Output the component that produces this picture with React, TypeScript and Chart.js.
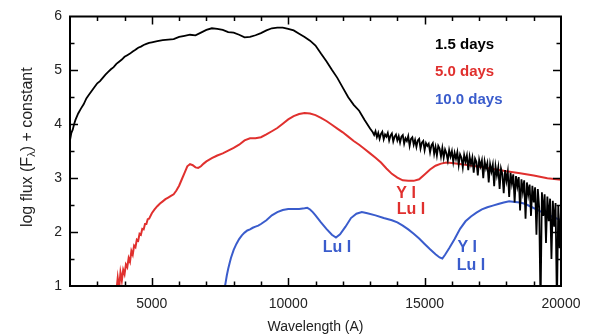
import React, { useEffect, useRef } from "react";
import { Chart, registerables } from "chart.js";

Chart.register(...registerables);

const FONT = "'Liberation Sans', Arial, Helvetica, sans-serif";

// 1.5 days spectrum (black)
const blackWave = [
  2000, 2050, 2100, 2150, 2200, 2300, 2400, 2500, 2600, 2700, 2800, 2900, 3000, 3100, 3200, 3300, 3400, 3500,
  3600, 3700, 3800, 3900, 4000, 4100, 4200, 4300, 4400, 4500, 4600, 4700, 4800, 4900, 5000, 5200, 5400, 5600,
  5800, 6000, 6200, 6400, 6600, 6800, 7000, 7200, 7400, 7600, 7800, 8000, 8200, 8400, 8600, 8800, 9000, 9200,
  9400, 9600, 9800, 10000, 10200, 10400, 10600, 10800, 11000, 11200, 11400, 11600, 11800, 12000, 12200, 12400,
  12600, 12800, 13000, 13100,
  13150, 13200, 13250, 13300, 13350, 13400, 13450, 13500, 13550, 13600,
  13650, 13700, 13750, 13800, 13850, 13900, 13950, 14000, 14050, 14100,
  14150, 14200, 14250, 14300, 14350, 14400, 14450, 14500, 14550, 14600,
  14650, 14700, 14750, 14800, 14850, 14900, 14950, 15000, 15050, 15100,
  15150, 15200, 15250, 15300, 15350, 15400, 15450, 15500, 15550, 15600,
  15650, 15700, 15750, 15800, 15850, 15900, 15950, 16000, 16050, 16100,
  16150, 16200, 16250, 16300, 16350, 16400, 16450, 16500, 16550, 16600,
  16650, 16700, 16750, 16800, 16850, 16900, 16950, 17000, 17050, 17100,
  17150, 17200, 17250, 17300, 17350, 17400, 17450, 17500, 17550, 17600,
  17650, 17700, 17750, 17800, 17850, 17900, 17950, 18000, 18050, 18100,
  18150, 18200, 18250, 18300, 18350, 18400, 18450, 18500, 18550, 18600,
  18650, 18700, 18750, 18800, 18850, 18900, 18950, 19000, 19050, 19100,
  19150, 19200, 19250, 19300, 19350, 19400, 19450, 19500, 19550, 19600,
  19650, 19700, 19750, 19800, 19850, 19900, 19950, 20000,
];
const blackFlux = [
  3.7, 3.84, 3.9, 4.0, 4.08, 4.2, 4.29, 4.37, 4.48, 4.55, 4.62, 4.69, 4.76, 4.8, 4.86, 4.92, 4.97, 5.02,
  5.06, 5.12, 5.16, 5.2, 5.25, 5.28, 5.31, 5.35, 5.38, 5.42, 5.44, 5.47, 5.49, 5.51, 5.52, 5.54, 5.56, 5.57,
  5.58, 5.62, 5.64, 5.66, 5.65, 5.7, 5.75, 5.78, 5.77, 5.75, 5.71, 5.7, 5.66, 5.61, 5.62, 5.65, 5.69, 5.74,
  5.78, 5.79, 5.79, 5.77, 5.74, 5.68, 5.62, 5.55, 5.46, 5.31, 5.17, 5.01, 4.86, 4.68, 4.5, 4.36,
  4.25, 4.08, 3.92, 3.85,
  3.8, 3.87, 3.76, 3.84, 3.73, 3.82, 3.86, 3.72, 3.81, 3.77,
  3.84, 3.7, 3.79, 3.83, 3.68, 3.77, 3.81, 3.7, 3.78, 3.66,
  3.77, 3.8, 3.64, 3.74, 3.69, 3.78, 3.6, 3.73, 3.76, 3.62,
  3.71, 3.58, 3.7, 3.73, 3.55, 3.66, 3.69, 3.52, 3.65, 3.6,
  3.64, 3.48, 3.61, 3.65, 3.45, 3.58, 3.42, 3.6, 3.55, 3.4,
  3.56, 3.38, 3.53, 3.46, 3.33, 3.52, 3.4, 3.5, 3.3, 3.47,
  3.36, 3.48, 3.25, 3.44, 3.38, 3.2, 3.43, 3.31, 3.42, 3.15,
  3.4, 3.26, 3.38, 3.1, 3.36, 3.3, 3.05, 3.34, 3.22, 3.33,
  3.0, 3.31, 3.18, 3.28, 2.92, 3.26, 3.12, 3.25, 2.85, 3.22,
  3.05, 3.2, 2.8, 3.18, 3.08, 2.72, 3.15, 2.95, 3.12, 2.65,
  3.1, 2.9, 3.07, 2.55, 3.04, 2.85, 3.02, 2.4, 2.98, 2.75,
  2.96, 2.25, 2.92, 2.7, 2.88, 2.3, 2.86, 2.55, 2.83, 1.95,
  2.8, 2.45, 0.6, 2.74, 2.3, 2.7, 1.8, 2.66, 2.2, 2.62,
  1.5, 2.58, 2.1, 2.54, 0.6, 2.5, 1.7, 2.42,
];

// 5.0 days spectrum (red)
const redWave = [
  3700, 3750, 3800, 3850, 3900, 3950, 4000, 4050, 4100, 4150, 4200, 4250, 4300, 4350, 4400, 4450, 4500, 4550,
  4600, 4650, 4700, 4750, 4800, 4850, 4900, 5000, 5100, 5200, 5300, 5400, 5500, 5600, 5700, 5800, 5900, 6000,
  6100, 6200, 6300, 6400, 6500, 6600, 6700, 6800, 6900, 7000, 7200, 7400, 7600, 7800, 8000, 8200, 8400, 8600,
  8800, 9000, 9200, 9400, 9600, 9800, 10000, 10200, 10400, 10600, 10800, 11000, 11200, 11400, 11600, 11800,
  12000, 12200, 12400, 12600, 12800, 13000, 13200, 13400, 13600, 13800, 14000, 14200, 14400, 14600, 14800,
  15000, 15200, 15400, 15600, 15800, 16000, 16500, 17000, 17500, 18000, 18500, 19000, 19500, 20000,
];
const redFlux = [
  0.9, 1.15, 0.95, 1.25, 1.1, 1.3, 1.22, 1.4, 1.35, 1.52, 1.45, 1.65, 1.58, 1.75, 1.72, 1.86, 1.84, 1.97,
  1.95, 2.06, 2.05, 2.15, 2.15, 2.24, 2.25, 2.35, 2.42, 2.48, 2.53, 2.57, 2.61, 2.64, 2.67, 2.7, 2.77, 2.86,
  2.98, 3.1, 3.22, 3.26, 3.24, 3.2, 3.19, 3.22, 3.27, 3.31, 3.37, 3.42, 3.46, 3.51, 3.56, 3.62, 3.7, 3.74,
  3.74, 3.76, 3.81, 3.87, 3.93, 4.01, 4.09, 4.15, 4.19, 4.21, 4.2, 4.17, 4.12, 4.06, 3.99, 3.92,
  3.85, 3.77, 3.69, 3.62, 3.54, 3.46, 3.38, 3.29, 3.18, 3.08, 3.01, 2.96, 2.95, 2.95, 2.98,
  3.07, 3.16, 3.23, 3.27, 3.29, 3.28, 3.25, 3.21, 3.17, 3.13, 3.09, 3.05, 3.0, 2.97,
];

// 10.0 days spectrum (blue)
const blueWave = [
  7650, 7700, 7750, 7800, 7850, 7900, 8000, 8100, 8200, 8300, 8400, 8500, 8600, 8700, 8800, 8900, 9000, 9200,
  9400, 9600, 9800, 10000, 10200, 10400, 10600, 10700, 10800, 10900, 11000, 11200, 11400, 11600, 11750, 11900,
  12100, 12300, 12500, 12700, 12900, 13200, 13500, 13800, 14000, 14200, 14400, 14600, 14800, 15000, 15200,
  15400, 15550, 15650, 15750, 15900, 16100, 16300, 16500, 16700, 16900, 17100, 17300, 17500, 17700, 17900,
  18100, 18300, 18500, 18700, 18900, 19100, 19300, 19500, 19700, 19900, 20000,
];
const blueFlux = [
  0.9, 1.05, 1.2, 1.32, 1.42, 1.52, 1.67, 1.78, 1.87, 1.94, 1.99, 2.03, 2.05, 2.08, 2.1, 2.12, 2.15, 2.22,
  2.31, 2.37, 2.41, 2.43, 2.43, 2.43, 2.44, 2.45, 2.42, 2.37, 2.31, 2.18, 2.06, 1.95, 1.9, 1.96,
  2.1, 2.26, 2.34, 2.37, 2.35, 2.31, 2.26, 2.22, 2.18, 2.12, 2.05, 1.97, 1.88, 1.78, 1.68,
  1.59, 1.53, 1.51, 1.58, 1.7, 1.87, 2.06, 2.2, 2.29, 2.36, 2.42, 2.46, 2.49, 2.52, 2.55,
  2.57, 2.56, 2.55, 2.52, 2.47, 2.42, 2.37, 2.33, 2.28, 2.24, 2.22,
];

const seriesLabels = ["1.5 days", "5.0 days", "10.0 days"];
const seriesColors = ["#000000", "#e0302e", "#3a5ccc"];

const xTickValues = [5000, 10000, 15000, 20000];

// line identifications: [text, wavelength, flux, colour index]
const lineIds: [string, number, number, number][] = [
  ["Y I", 14320, 2.72, 1],
  ["Lu I", 14500, 2.42, 1],
  ["Lu I", 11790, 1.71, 2],
  ["Y I", 16560, 1.71, 2],
  ["Lu I", 16700, 1.38, 2],
];

const toPoints = (w: number[], f: number[]) => w.map((x, i) => ({ x, y: f[i] }));

const overlayPlugin = {
  id: "overlay",
  afterDraw(chart: any) {
    const ctx: CanvasRenderingContext2D = chart.ctx;
    const area = chart.chartArea;
    const xs = chart.scales.x;
    const ys = chart.scales.y;
    const left = area.left;
    const right = area.right;
    const top = area.top;
    const bottom = area.bottom;
    ctx.save();
    ctx.globalAlpha = 1;
    ctx.globalCompositeOperation = "source-over";
    ctx.setLineDash([]);
    ctx.shadowColor = "rgba(0,0,0,0)";
    // inward ticks
    ctx.strokeStyle = "#000000";
    ctx.lineWidth = 1.5;
    ctx.beginPath();
    for (let v = 3000; v < 20000; v += 1000) {
      const px = Math.round(xs.getPixelForValue(v)) + 0.5;
      const len = v % 5000 === 0 ? 8 : 4.5;
      ctx.moveTo(px, bottom);
      ctx.lineTo(px, bottom - len);
      ctx.moveTo(px, top);
      ctx.lineTo(px, top + len);
    }
    for (let v = 1.5; v < 6; v += 0.5) {
      const py = Math.round(ys.getPixelForValue(v)) + 0.5;
      const len = v % 1 === 0 ? 8 : 4.5;
      ctx.moveTo(left, py);
      ctx.lineTo(left + len, py);
      ctx.moveTo(right, py);
      ctx.lineTo(right - len, py);
    }
    ctx.stroke();
    // frame
    ctx.lineWidth = 2;
    ctx.beginPath();
    ctx.rect(left, top, right - left, bottom - top);
    ctx.stroke();

    // legend text
    ctx.font = `bold 15px ${FONT}`;
    ctx.textBaseline = "middle";
    ctx.textAlign = "left";
    seriesLabels.forEach((t, i) => {
      ctx.fillStyle = seriesColors[i];
      ctx.fillText(t, left + 365, top + 28 + i * 27.5);
    });

    // line identifications
    ctx.font = `bold 16px ${FONT}`;
    ctx.textAlign = "center";
    lineIds.forEach(([t, w, f, c]) => {
      ctx.fillStyle = seriesColors[c];
      ctx.fillText(t, xs.getPixelForValue(w), ys.getPixelForValue(f));
    });

    // y axis title with subscript lambda
    const parts: [string, number, number][] = [
      ["log flux (F", 16, 0],
      ["\u03bb", 11, 4],
      [") + constant", 16, 0],
    ];
    let total = 0;
    parts.forEach(([t, s]) => {
      ctx.font = `${s}px ${FONT}`;
      total += ctx.measureText(t).width;
    });
    ctx.translate(28, (top + bottom) / 2 - 4);
    ctx.rotate(-Math.PI / 2);
    ctx.fillStyle = "#222";
    ctx.textAlign = "left";
    ctx.textBaseline = "middle";
    let cx = -total / 2;
    parts.forEach(([t, s, dy]) => {
      ctx.font = `${s}px ${FONT}`;
      ctx.fillText(t, cx, dy);
      cx += ctx.measureText(t).width;
    });
    ctx.restore();
  },
};

export default function App() {
  const ref = useRef<HTMLCanvasElement | null>(null);
  useEffect(() => {
    document.body.style.margin = "0";
    const canvas = ref.current;
    if (!canvas) return;
    const chart = new Chart(canvas, {
      type: "line",
      data: {
        datasets: [
          {
            label: seriesLabels[0],
            data: toPoints(blackWave, blackFlux),
            borderColor: seriesColors[0],
            borderWidth: 1.8,
            pointRadius: 0,
          },
          {
            label: seriesLabels[1],
            data: toPoints(redWave, redFlux),
            borderColor: seriesColors[1],
            borderWidth: 2,
            pointRadius: 0,
          },
          {
            label: seriesLabels[2],
            data: toPoints(blueWave, blueFlux),
            borderColor: seriesColors[2],
            borderWidth: 2,
            pointRadius: 0,
          },
        ],
      },
      options: {
        responsive: false,
        animation: false,
        devicePixelRatio: 1,
        layout: { padding: { top: 9, right: 32, left: 0, bottom: 0 } },
        plugins: { legend: { display: false }, tooltip: { enabled: false } },
        elements: { line: { tension: 0 } },
        scales: {
          x: {
            type: "linear",
            min: 2000,
            max: 20000,
            grid: { display: false, drawTicks: false },
            border: { display: false },
            afterBuildTicks: (s: any) => {
              s.ticks = xTickValues.map((value) => ({ value }));
            },
            ticks: {
              autoSkip: false,
              maxRotation: 0,
              padding: 10,
              color: "#222",
              font: { family: FONT, size: 14 },
              callback: (v: any) => String(v),
            },
            title: {
              display: true,
              text: "Wavelength (A)",
              color: "#222",
              font: { family: FONT, size: 14 },
              padding: { top: 4, bottom: 0 },
            },
            afterFit: (s: any) => {
              s.height = 50;
            },
          },
          y: {
            type: "linear",
            min: 1,
            max: 6,
            grid: { display: false, drawTicks: false },
            border: { display: false },
            ticks: {
              stepSize: 1,
              padding: 8,
              color: "#222",
              font: { family: FONT, size: 14 },
            },
            afterFit: (s: any) => {
              s.width = 70;
            },
          },
        },
      },
      plugins: [overlayPlugin],
    });
    return () => chart.destroy();
  }, []);
  return (
    <div style={{ width: 593, height: 336 }}>
      <canvas ref={ref} width={593} height={336} style={{ display: "block" }} />
    </div>
  );
}
